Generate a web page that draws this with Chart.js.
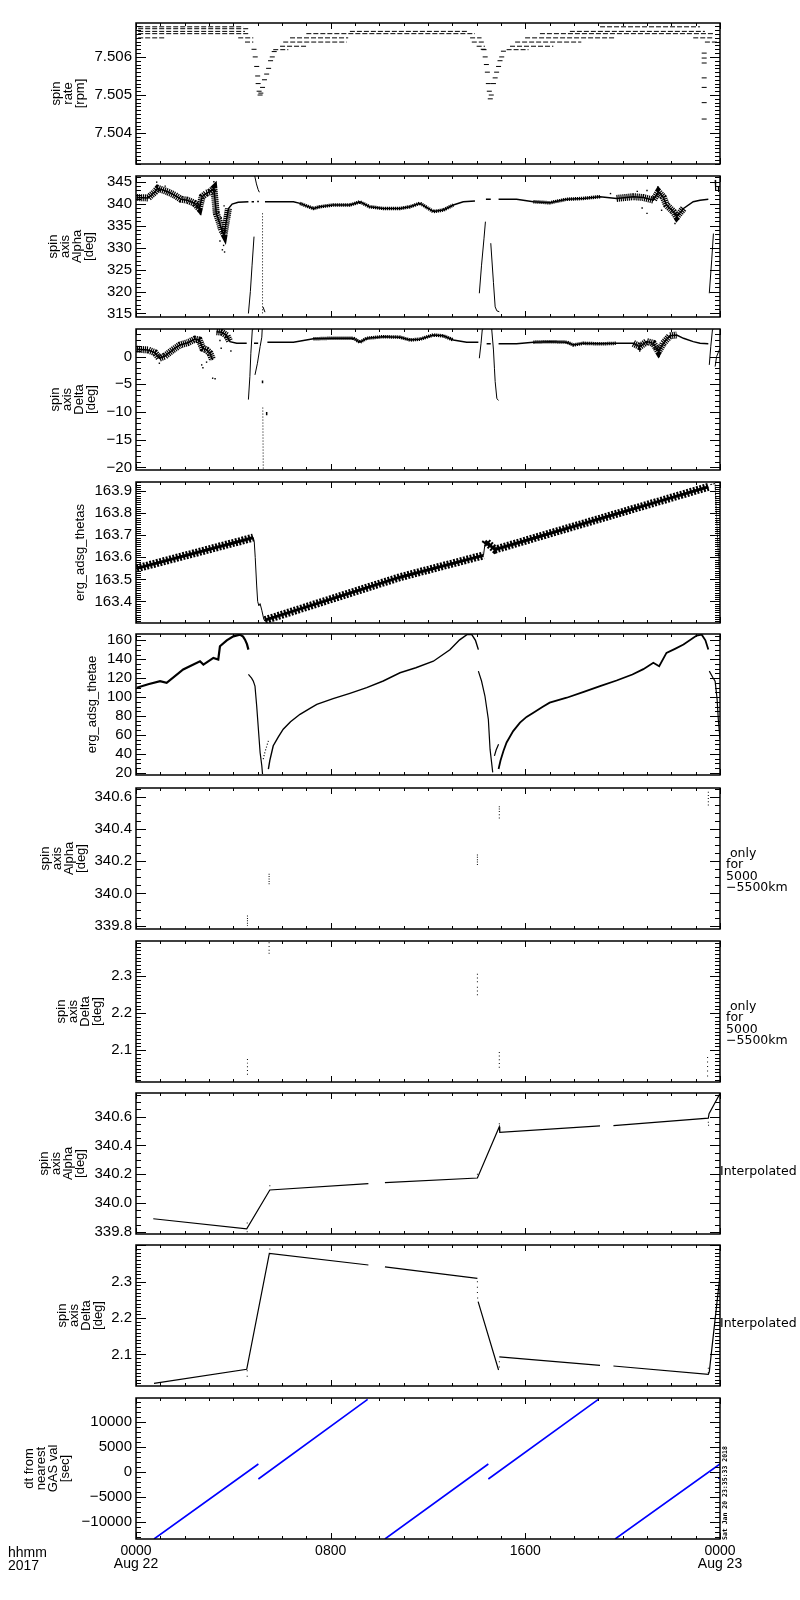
<!DOCTYPE html>
<html>
<head>
<meta charset="utf-8">
<script src="https://cdn.jsdelivr.net/npm/chart.js@4.4.1/dist/chart.umd.min.js"></script>
<style>
  body { margin: 0; background: #fff; }
  #page { position: relative; width: 800px; height: 1600px; overflow: hidden; background: #fff; }
  #page canvas { position: absolute; left: 0; }
</style>
</head>
<body>
<div id="page"></div>
<script>
// ---- x axis (hours of Aug 22) ----
const hourTicks = [0, 8, 16, 24];
const hourTickLabels = [['0000', 'Aug 22'], ['0800'], ['1600'], ['0000', 'Aug 23']];

// ---- y tick labels per panel ----
const spinRateTicks = [7.504, 7.505, 7.506];
const spinAlphaTicks = [315, 320, 325, 330, 335, 340, 345];
const spinDeltaTicks = [-20, -15, -10, -5, 0];
const thetasTicks = [163.4, 163.5, 163.6, 163.7, 163.8, 163.9];
const thetaeTicks = [20, 40, 60, 80, 100, 120, 140, 160];
const obsAlphaTicks = [339.8, 340.0, 340.2, 340.4, 340.6];
const obsDeltaTicks = [2.1, 2.2, 2.3];
const interpAlphaTicks = [339.8, 340.0, 340.2, 340.4, 340.6];
const interpDeltaTicks = [2.1, 2.2, 2.3];
const dtTicks = [-10000, -5000, 0, 5000, 10000];

// ---- panel 1: spin rate [rpm] ----  [start hour, end hour, level]
const spinLevels = [
  [0.09, 4.41, 7.50679], [19.07, 23.18, 7.50679],
  [0.09, 4.62, 7.50674],
  [0.09, 4.48, 7.50667], [8.79, 13.66, 7.50667], [17.83, 23.38, 7.50667],
  [0.09, 4.68, 7.50661], [7.0, 13.93, 7.50661], [16.6, 23.73, 7.50661],
  [0.09, 1.2, 7.5065], [4.2, 4.82, 7.5065], [6.33, 8.72, 7.5065], [13.73, 14.2, 7.5065], [15.99, 19.68, 7.5065], [22.9, 23.73, 7.5065],
  [4.48, 4.82, 7.50639], [6.05, 8.66, 7.50639], [13.8, 14.34, 7.50639], [15.58, 18.3, 7.50639], [23.38, 24, 7.50639],
  [5.92, 7.0, 7.50628], [14.0, 14.34, 7.50628], [15.37, 17.15, 7.50628],
  [5.64, 6.26, 7.50619], [14.2, 14.41, 7.50619], [15.23, 16.13, 7.50619]
];
const spinDips = [
  [4.85, 7.5062], [4.9, 7.506], [4.96, 7.50575], [5.0, 7.5055], [5.02, 7.5053], [5.06, 7.5051], [5.1, 7.505],
  [5.13, 7.50505], [5.2, 7.5052], [5.28, 7.5054], [5.37, 7.50555], [5.45, 7.5057], [5.53, 7.5059], [5.6, 7.506], [5.68, 7.50614],
  [14.27, 7.5062], [14.35, 7.506], [14.4, 7.5058], [14.44, 7.5056], [14.48, 7.5053], [14.52, 7.5051], [14.56, 7.5049],
  [14.6, 7.505], [14.69, 7.5053], [14.76, 7.50545], [14.82, 7.5056], [14.9, 7.50575], [14.96, 7.5059], [15.03, 7.506], [15.1, 7.50615],
  [23.35, 7.5061], [23.35, 7.50597], [23.35, 7.50584], [23.35, 7.50545], [23.35, 7.5052], [23.35, 7.5048], [23.35, 7.50437]
];

// ---- panel 2: spin axis Alpha [deg] ----
const alphaMain = [
  [0.03, 341.4], [0.5, 341.3], [0.78, 342.7], [0.9, 343.5], [1.1, 343.1], [1.3, 342.7], [1.6, 341.9], [1.85, 341.0],
  [2.1, 340.8], [2.4, 340.1], [2.6, 338.9], [2.72, 341.6], [2.9, 342.4], [3.05, 342.7], [3.2, 343.5], [3.3, 337.8],
  [3.42, 335.9], [3.52, 334.0], [3.62, 333.0], [3.72, 336.3], [3.8, 338.9], [3.95, 339.9], [4.2, 340.3], [4.62, 340.45], [4.63, null],
  [4.75, 340.45], [4.85, 340.45], [4.86, null], [4.98, 340.5], [5.05, 340.5], [5.06, null],
  [5.3, 340.45], [6.47, 340.45], [6.74, 340.07], [7.0, 339.5], [7.29, 338.9], [7.56, 339.3], [8.1, 339.7], [8.79, 339.7],
  [9.2, 340.4], [9.6, 339.3], [10.16, 338.9], [10.85, 338.9], [11.26, 339.3], [11.67, 340.1], [12.22, 338.2], [12.63, 338.55],
  [13.04, 339.7], [13.45, 340.45], [13.93, 340.6], [14.05, null],
  [14.38, 341.0], [14.58, 341.0], [14.6, null],
  [14.9, 341.0], [15.64, 341.0], [16.33, 340.45], [17.0, 340.2], [17.7, 341.0], [18.38, 341.2], [19.07, 341.6], [19.75, 341.2],
  [20.44, 341.6], [20.85, 341.4], [21.26, 340.8], [21.47, 342.7], [21.67, 341.5], [21.8, 339.7], [22.08, 338.2], [22.22, 337.0],
  [22.5, 338.9], [22.9, 340.45], [23.18, 340.8], [23.52, 341.0]
];
const alphaStrongNoise = [[0.03, 3.85], [19.7, 22.6]];
const alphaMildNoise = [[6.7, 13.1], [16.3, 19.7]];
const alphaSpikes = [
  [0.85, 344.9], [1.2, 344.0], [2.65, 337.6], [3.1, 343.8], [3.2, 345.0], [3.25, 344.2], [3.4, 338.0], [3.45, 331.5],
  [3.5, 336.8], [3.55, 329.5], [3.6, 330.5], [3.64, 329.0], [3.62, 339.5], [19.5, 342.3], [20.6, 342.8], [20.8, 339.0],
  [21.0, 337.8], [21.0, 343.0], [21.45, 343.8], [21.5, 343.0], [21.6, 338.5], [22.15, 335.5], [22.3, 336.5]
];
const alphaArc1 = [[4.88, 346.3], [4.95, 344.5], [5.02, 343.2], [5.07, 342.6]];
const alphaRise1 = [[4.62, 315.0], [4.7, 320.0], [4.77, 326.0], [4.85, 332.5]];
const alphaDrop1 = [[5.2, 337.8], [5.2, 315.0]];
const alphaFoot1 = [[5.22, 316.5], [5.3, 315.3]];
const alphaRise2 = [[14.11, 319.6], [14.2, 326.0], [14.3, 332.0], [14.36, 335.9]];
const alphaFall2 = [[14.58, 331.0], [14.69, 322.0], [14.76, 316.5], [14.83, 315.6], [14.93, 315.4]];
const alphaRise3 = [[23.56, 319.6], [23.66, 327.2], [23.73, 333.2]];
const alphaEnd = [[23.8, 345.4], [23.82, 343.1], [23.82, null], [23.93, 343.9], [23.94, 342.7]];

// ---- panel 3: spin axis Delta [deg] ----
const deltaMain = [
  [0.03, 1.33], [0.5, 1.2], [0.78, 0.7], [0.96, -0.3], [1.19, 0.1], [1.51, 1.2], [1.81, 2.1], [2.12, 2.5], [2.42, 3.15],
  [2.6, 3.0], [2.74, 1.5], [2.9, 1.2], [3.04, 0.6], [3.15, -0.6], [3.2, null],
  [3.31, 4.5], [3.52, 4.4], [3.73, 3.8], [3.86, 2.7], [4.14, 2.4], [4.55, 2.4], [4.56, null],
  [4.85, 2.4], [5.02, 2.4], [5.03, null],
  [5.4, 2.6], [6.47, 2.6], [7.29, 3.2], [8.1, 3.33], [8.93, 3.33], [9.2, 2.6], [9.48, 3.3], [10.16, 3.6], [10.85, 3.5],
  [11.26, 3.0], [11.67, 3.15], [12.22, 3.9], [12.63, 3.75], [13.04, 3.0], [13.59, 2.6], [14.07, 2.6], [14.08, null],
  [14.41, 2.3], [14.58, 2.3], [14.59, null],
  [14.9, 2.3], [15.64, 2.3], [16.33, 2.6], [17.0, 2.7], [17.7, 2.6], [17.97, 2.1], [18.38, 2.4], [19.07, 2.3], [19.75, 2.4],
  [20.44, 2.4], [20.7, 1.8], [20.99, 2.7], [21.26, 2.4], [21.47, 0.9], [21.67, 2.4], [21.94, 3.75], [22.22, 3.9], [22.5, 3.3],
  [22.9, 2.7], [23.18, 2.4], [23.52, 2.3]
];
const deltaStrongNoise = [[0.03, 3.9], [20.4, 22.3]];
const deltaMildNoise = [[6.5, 13.1], [16.3, 20.4]];
const deltaSpikes = [
  [0.96, -1.2], [2.7, -1.5], [2.75, -2.0], [2.9, -1.0], [3.15, -3.9], [3.25, -4.0], [3.45, 2.9], [3.5, 1.5], [3.9, 1.0],
  [20.7, 1.0], [21.3, 1.4], [21.47, 0.3], [21.5, 0.0], [21.55, 0.6]
];
const deltaRise1 = [[4.62, -7.76], [4.68, -3.6], [4.72, 0.6], [4.78, 4.85], [4.8, 5.2]];
const deltaFall1 = [[5.19, 5.2], [5.17, 3.5], [5.1, 1.8], [4.99, -1.2], [4.89, -3.3]];
const deltaDrop1 = [[5.21, -9.2], [5.23, -20.5]];
const deltaStub1 = [[5.2, -4.3], [5.2, -4.8], [5.2, null], [5.37, -10.0], [5.37, -10.6]];
const deltaRise2 = [[14.11, -0.3], [14.18, 2.4], [14.23, 4.85], [14.25, 5.2]];
const deltaFall2 = [[14.6, 5.2], [14.62, 4.85], [14.69, 1.2], [14.73, -2.1], [14.76, -4.5], [14.83, -7.6], [14.9, -7.9]];
const deltaRise3 = [[23.56, -1.5], [23.62, 1.8], [23.69, 4.85], [23.71, 5.2]];
const deltaEnd = [[23.8, -1.8], [23.86, 0.0], [24.0, 1.5]];

// ---- panel 4: erg_adsg_thetas ----
const thetasBand = [
  [0.03, 163.55], [4.5, 163.68], [4.82, 163.69], [4.83, null],
  [5.3, 163.315], [10.85, 163.51], [14.28, 163.609], [14.3, null],
  [14.34, 163.66], [14.4, 163.67], [14.6, 163.65], [14.76, 163.635], [14.9, 163.64], [23.52, 163.92]
];
const thetasDrop = [
  [4.82, 163.69], [4.86, 163.67], [4.9, 163.6], [4.96, 163.47], [5.0, 163.4], [5.05, 163.38], [5.1, 163.39],
  [5.17, 163.36], [5.25, 163.32], [5.3, 163.31], [5.3, null], [14.28, 163.609], [14.34, 163.66]
];
const thetasEnd = [
  [23.6, 163.93], [23.8, 163.935], [23.82, 163.88], [23.85, 163.8], [23.88, 163.74], [23.9, 163.68],
  [23.93, 163.62], [23.95, 163.57], [23.98, 163.53], [24.0, 163.51]
];

// ---- panel 5: erg_adsg_thetae ----
const thetaeArc1 = [
  [0.03, 109.9], [0.5, 113.5], [0.99, 116.9], [1.26, 115.1], [1.94, 129.2], [2.63, 137.9], [2.77, 134.4], [3.18, 141.4],
  [3.38, 139.7], [3.45, 153.7], [3.73, 160.0], [4.0, 164.2], [4.27, 166.0], [4.4, 164.0], [4.48, 160.7], [4.56, 156.0], [4.62, 150.2]
];
const thetaeFall1 = [[4.62, 123.9], [4.75, 120.0], [4.82, 116.9], [4.89, 111.6], [4.96, 90.6], [5.03, 66.0], [5.1, 41.4], [5.17, 27.4], [5.2, 18.6]];
const thetaeStub1 = [[5.23, 34.4], [5.3, 42.0], [5.44, 53.7]];
const thetaeRise1 = [
  [5.44, 23.9], [5.5, 33.0], [5.64, 48.5], [5.85, 58.0], [6.05, 66.0], [6.35, 74.0], [6.74, 81.8], [7.15, 88.0], [7.43, 92.3],
  [8.1, 98.3], [8.79, 104.0], [9.48, 109.9], [10.16, 117.0], [10.85, 125.7], [11.5, 131.0], [12.22, 137.9], [12.9, 150.0],
  [13.3, 160.5], [13.6, 166.0], [13.8, 166.0], [13.95, 160.0], [14.07, 150.2]
];
const thetaeFall2 = [[14.07, 127.4], [14.2, 117.0], [14.34, 101.1], [14.48, 76.5], [14.55, 44.9], [14.66, 20.4]];
const thetaeStub2 = [[14.73, 37.9], [14.8, 44.0], [14.9, 50.2]];
const thetaeRise2 = [
  [14.9, 23.9], [14.98, 33.0], [15.1, 43.0], [15.23, 52.0], [15.5, 64.0], [15.78, 73.0], [16.05, 79.0], [16.33, 83.5],
  [16.7, 89.5], [17.0, 94.1], [17.7, 99.3], [18.4, 105.5], [19.07, 111.6], [19.75, 117.5], [20.4, 123.9], [20.85, 129.5],
  [21.26, 136.2], [21.5, 132.6], [21.8, 146.7], [22.15, 151.0], [22.5, 155.5], [23.04, 165.0], [23.25, 166.0],
  [23.4, 160.0], [23.52, 150.2]
];
const thetaeFall3 = [[23.56, 127.4], [23.7, 121.0], [23.8, 116.9], [23.88, 98.0], [23.93, 76.5], [24.0, 55.4]];

// ---- panel 6 / 7: spin axis only for 5000-5500km ----
const obsAlpha = [
  [4.58, 339.86], [4.58, 339.845], [4.58, 339.83], [4.58, 339.815], [4.58, 339.8],
  [5.47, 340.12], [5.47, 340.105], [5.47, 340.09], [5.47, 340.075], [5.47, 340.06],
  [14.03, 340.24], [14.03, 340.225], [14.03, 340.21], [14.03, 340.195], [14.03, 340.18],
  [14.93, 340.54], [14.93, 340.525], [14.93, 340.51], [14.93, 340.49], [14.93, 340.47],
  [23.52, 340.63], [23.52, 340.61], [23.52, 340.59], [23.52, 340.57], [23.52, 340.55]
];
const obsDelta = [
  [4.58, 2.075], [4.58, 2.065], [4.58, 2.055], [4.58, 2.045], [4.58, 2.035],
  [5.47, 2.39], [5.47, 2.38], [5.47, 2.37], [5.47, 2.362],
  [14.03, 2.305], [14.03, 2.295], [14.03, 2.285], [14.03, 2.27], [14.03, 2.26], [14.03, 2.25],
  [14.93, 2.094], [14.93, 2.084], [14.93, 2.074], [14.93, 2.064], [14.93, 2.054],
  [23.49, 2.08], [23.49, 2.068], [23.49, 2.056], [23.49, 2.044], [23.49, 2.03]
];

// ---- panel 8 / 9: interpolated spin axis ----
const interpAlpha = [
  [0.71, 339.89], [4.55, 339.82], [5.5, 340.09], [9.55, 340.134], [9.56, null],
  [10.23, 340.141], [14.03, 340.173], [14.93, 340.53], [14.95, 340.49], [19.07, 340.535], [19.08, null],
  [19.62, 340.537], [23.52, 340.589], [23.55, 340.62], [24.0, 340.76]
];
const interpAlphaDots = [[4.57, 339.86], [4.57, 339.8], [5.5, 340.12], [14.03, 340.2], [14.93, 340.55], [23.52, 340.56], [23.53, 340.54]];
const interpDelta = [
  [0.74, 2.02], [4.55, 2.059], [5.48, 2.378], [9.55, 2.346], [9.56, null],
  [10.23, 2.341], [14.03, 2.309], [14.04, null], [14.06, 2.245], [14.9, 2.057], [14.91, null],
  [14.93, 2.093], [19.07, 2.07], [19.08, null],
  [19.62, 2.068], [23.52, 2.045], [23.56, 2.052], [24.0, 2.318]
];
const interpDeltaDots = [
  [4.57, 2.055], [4.57, 2.04], [5.5, 2.39], [14.03, 2.3], [14.03, 2.285], [14.03, 2.27], [14.04, 2.255],
  [14.93, 2.08], [14.93, 2.065], [23.52, 2.05], [23.52, 2.062]
];

// ---- panel 10: dt from nearest GAS val [sec] ----
const dtSegments = [
  [0.74, -13460], [5.03, 1540], [5.03, null],
  [5.03, -1460], [9.52, 14470], [9.52, null],
  [10.23, -13460], [14.48, 1540], [14.48, null],
  [14.48, -1460], [19.0, 14470], [19.0, null],
  [19.69, -13460], [24.0, 1540]
];
const dtStray = [[23.95, -1330]];

// ---------------------------------------------------------------
Chart.defaults.font.family = "'Liberation Sans', Arial, sans-serif";
Chart.defaults.color = '#000';

const PANEL_TOPS = [23, 176, 329, 482, 634, 788, 941, 1093, 1245, 1398];
const PANEL_H = 141, PAD_T = 12, PAD_B = 12, PAD_B_LAST = 60;

const xy = arr => arr.map(p => ({ x: p[0], y: p[1] }));

function pick(arr, ranges) {
  const out = [];
  ranges.forEach(([a, b]) => {
    arr.forEach(p => { if (p[0] >= a && p[0] <= b) out.push(p); });
    out.push([b, null]);
  });
  return out;
}

function levelData(levels) {
  const out = [];
  levels.forEach(([a, b, v]) => { out.push([a, v], [b, v], [b, null]); });
  return out;
}

function line(arr, width, extra) {
  return Object.assign({
    data: xy(arr), showLine: true, borderColor: '#000', borderWidth: width,
    pointRadius: 0, clip: 0, spanGaps: false
  }, extra || {});
}

function dots(arr, r, extra) {
  return Object.assign({
    data: xy(arr), showLine: false, pointRadius: r, pointStyle: 'rect',
    backgroundColor: '#000', borderColor: '#000', borderWidth: 0, clip: 0
  }, extra || {});
}

const dotted = { borderDash: [1, 2] };
const noisy = { borderDash: [1.2, 0.8], borderCapStyle: 'butt' };

const panels = [
  {
    title: ['spin', 'rate', '[rpm]'], tx: 56, min: 7.50319, max: 7.50689, ticks: spinRateTicks, minor: 0.0001, major: 0.001, dec: 3,
    datasets: [
      line(levelData(spinLevels), 1, { borderDash: [5, 2] }),
      dots(spinDips, 2.5, { pointStyle: 'line', borderWidth: 1 })
    ]
  },
  {
    title: ['spin', 'axis', 'Alpha', '[deg]'], tx: 53, min: 314.2, max: 346.3, ticks: spinAlphaTicks, minor: 1, major: 5, dec: 0,
    datasets: [
      line(alphaMain, 1.5),
      line(pick(alphaMain, alphaStrongNoise), 7, noisy),
      line(pick(alphaMain, alphaMildNoise), 3.5, noisy),
      dots(alphaSpikes, 1),
      line(alphaArc1, 1), line(alphaRise1, 1), line(alphaDrop1, 1, dotted), line(alphaFoot1, 1),
      line(alphaRise2, 1), line(alphaFall2, 1), line(alphaRise3, 1), line(alphaEnd, 1)
    ]
  },
  {
    title: ['spin', 'axis', 'Delta', '[deg]'], tx: 55, min: -20.47, max: 4.98, ticks: spinDeltaTicks, minor: 1, major: 5, dec: 0,
    datasets: [
      line(deltaMain, 1.5),
      line(pick(deltaMain, deltaStrongNoise), 7, noisy),
      line(pick(deltaMain, deltaMildNoise), 3.5, noisy),
      dots(deltaSpikes, 1),
      line(deltaRise1, 1), line(deltaFall1, 1), line(deltaDrop1, 1, dotted), line(deltaStub1, 1.5),
      line(deltaRise2, 1), line(deltaFall2, 1), line(deltaRise3, 1), line(deltaEnd, 1)
    ]
  },
  {
    title: 'erg_adsg_thetas', tx: 80, min: 163.302, max: 163.942, ticks: thetasTicks, minor: 0.01, major: 0.1, dec: 1,
    datasets: [
      line(thetasBand, 8, { borderDash: [2, 1.4], borderCapStyle: 'butt' }),
      line(thetasBand, 3),
      line(thetasDrop, 1),
      line(thetasEnd, 1, { borderDash: [2, 1] })
    ]
  },
  {
    title: 'erg_adsg_thetae', tx: 92, min: 17.6, max: 166.7, ticks: thetaeTicks, minor: 5, major: 20, dec: 0,
    datasets: [
      line(thetaeArc1, 2.2), line(thetaeFall1, 1.2), line(thetaeStub1, 1.2, dotted), line(thetaeRise1, 1.4),
      line(thetaeFall2, 1.2), line(thetaeStub2, 1.2), line(thetaeRise2, 1.8), line(thetaeFall3, 1.2)
    ]
  },
  {
    title: ['spin', 'axis', 'Alpha', '[deg]'], tx: 45, min: 339.779, max: 340.656, ticks: obsAlphaTicks, minor: 0.05, major: 0.2, dec: 1,
    notes: [' only', 'for', '5000', '\u22125500km'],
    datasets: [dots(obsAlpha, 0.7)]
  },
  {
    title: ['spin', 'axis', 'Delta', '[deg]'], tx: 61, min: 2.014, max: 2.395, ticks: obsDeltaTicks, minor: 0.01, major: 0.1, dec: 1,
    notes: [' only', 'for', '5000', '\u22125500km'],
    datasets: [dots(obsDelta, 0.7)]
  },
  {
    title: ['spin', 'axis', 'Alpha', '[deg]'], tx: 44, min: 339.784, max: 340.764, ticks: interpAlphaTicks, minor: 0.05, major: 0.2, dec: 1,
    side: 'Interpolated',
    datasets: [line(interpAlpha, 1.2), dots(interpAlphaDots, 0.7)]
  },
  {
    title: ['spin', 'axis', 'Delta', '[deg]'], tx: 62, min: 2.013, max: 2.401, ticks: interpDeltaTicks, minor: 0.01, major: 0.1, dec: 1,
    side: 'Interpolated',
    datasets: [line(interpDelta, 1.2), dots(interpDeltaDots, 0.7)]
  },
  {
    title: ['dt from', 'nearest', 'GAS val', '[sec]'], tx: 29, min: -13460, max: 14740, ticks: dtTicks, minor: 1000, major: 5000, dec: 0,
    datasets: [
      line(dtSegments, 1.6, { borderColor: '#0000ff' }),
      dots(dtStray, 1, { backgroundColor: '#0000ff' })
    ]
  }
];

function fmt(v, dec) {
  return v.toFixed(dec).replace('-', '\u2212');
}

function panelPlugin(cfg, last) {
  return {
    id: 'idlPanel',
    afterDatasetsDraw(chart) {
      const { ctx, chartArea: a, scales: { x, y } } = chart;
      ctx.save();
      ctx.strokeStyle = '#000';
      ctx.lineWidth = 1;
      ctx.beginPath();
      const ratio = Math.round(cfg.major / cfg.minor);
      const n0 = Math.ceil(cfg.min / cfg.minor - 1e-6), n1 = Math.floor(cfg.max / cfg.minor + 1e-6);
      for (let n = n0; n <= n1; n++) {
        const py = Math.round(y.getPixelForValue(n * cfg.minor)) + 0.5;
        const len = (n % ratio === 0) ? 10 : 5;
        ctx.moveTo(a.left, py); ctx.lineTo(a.left + len, py);
        ctx.moveTo(a.right, py); ctx.lineTo(a.right - len, py);
      }
      for (let h = 0; h <= 24; h++) {
        const px = Math.round(x.getPixelForValue(h)) + 0.5;
        const len = hourTicks.includes(h) ? 6 : 3;
        ctx.moveTo(px, a.bottom); ctx.lineTo(px, a.bottom - len);
        ctx.moveTo(px, a.top); ctx.lineTo(px, a.top + len);
      }
      ctx.stroke();
      ctx.lineWidth = 1.5;
      ctx.strokeRect(a.left, a.top, a.right - a.left, a.bottom - a.top);
      ctx.restore();
    },
    afterDraw(chart) {
      const { ctx, chartArea: a } = chart;
      ctx.save();
      ctx.fillStyle = '#000';
      ctx.textBaseline = 'middle';
      ctx.textAlign = 'left';
      if (cfg.notes) {
        ctx.font = "12.5px 'DejaVu Sans'";
        cfg.notes.forEach((t, i) => ctx.fillText(t, 726, a.top + 65.5 + i * 11.5));
      }
      if (cfg.side) {
        ctx.font = "12.5px 'DejaVu Sans'";
        ctx.fillText(cfg.side, 720, a.top + 79);
      }
      if (last) {
        ctx.font = "14px 'Liberation Sans'";
        ctx.fillText('hhmm', 8, a.bottom + 14);
        ctx.fillText('2017', 8, a.bottom + 27);
        ctx.font = "bold 6.5px 'DejaVu Sans Mono'";
        ctx.translate(725, a.bottom + 1);
        ctx.rotate(-Math.PI / 2);
        ctx.fillText('Sat Jan 20 23:35:33 2018', 0, 0);
      }
      ctx.restore();
    }
  };
}

const page = document.getElementById('page');

panels.forEach((cfg, i) => {
  const last = i === panels.length - 1;
  const padB = last ? PAD_B_LAST : PAD_B;
  const canvas = document.createElement('canvas');
  canvas.width = 800;
  canvas.height = PAD_T + PANEL_H + padB;
  canvas.style.top = (PANEL_TOPS[i] - PAD_T) + 'px';
  canvas.style.width = '800px';
  canvas.style.height = canvas.height + 'px';
  page.appendChild(canvas);

  new Chart(canvas.getContext('2d'), {
    type: 'scatter',
    data: { datasets: cfg.datasets },
    options: {
      responsive: false,
      animation: false,
      devicePixelRatio: 1,
      events: [],
      layout: { padding: { top: PAD_T, left: 0, right: 80, bottom: 0 } },
      plugins: { legend: { display: false }, tooltip: { enabled: false } },
      scales: {
        x: {
          type: 'linear', min: 0, max: 24,
          grid: { display: false, drawTicks: false },
          border: { display: false },
          afterBuildTicks: s => { s.ticks = hourTicks.map(v => ({ value: v })); },
          afterFit: s => { s.height = padB; s.paddingLeft = 0; s.paddingRight = 0; },
          ticks: {
            display: last, autoSkip: false, maxRotation: 0, padding: 6,
            font: { size: 14, lineHeight: '13px' },
            callback: (v, idx) => hourTickLabels[idx]
          }
        },
        y: {
          type: 'linear', min: cfg.min, max: cfg.max,
          grid: { display: false, drawTicks: false },
          border: { display: false },
          afterBuildTicks: s => { s.ticks = cfg.ticks.map(v => ({ value: v })); },
          afterFit: s => { s.width = 136; s.paddingTop = 0; s.paddingBottom = 0; },
          ticks: {
            autoSkip: false, padding: 4,
            font: { size: 15 },
            callback: v => fmt(v, cfg.dec)
          },
          title: {
            display: true, text: cfg.title,
            font: { size: 13, lineHeight: '12px' },
            padding: { top: cfg.tx - 6, bottom: 0 }
          }
        }
      }
    },
    plugins: [panelPlugin(cfg, last)]
  });
});
</script>
</body>
</html>
